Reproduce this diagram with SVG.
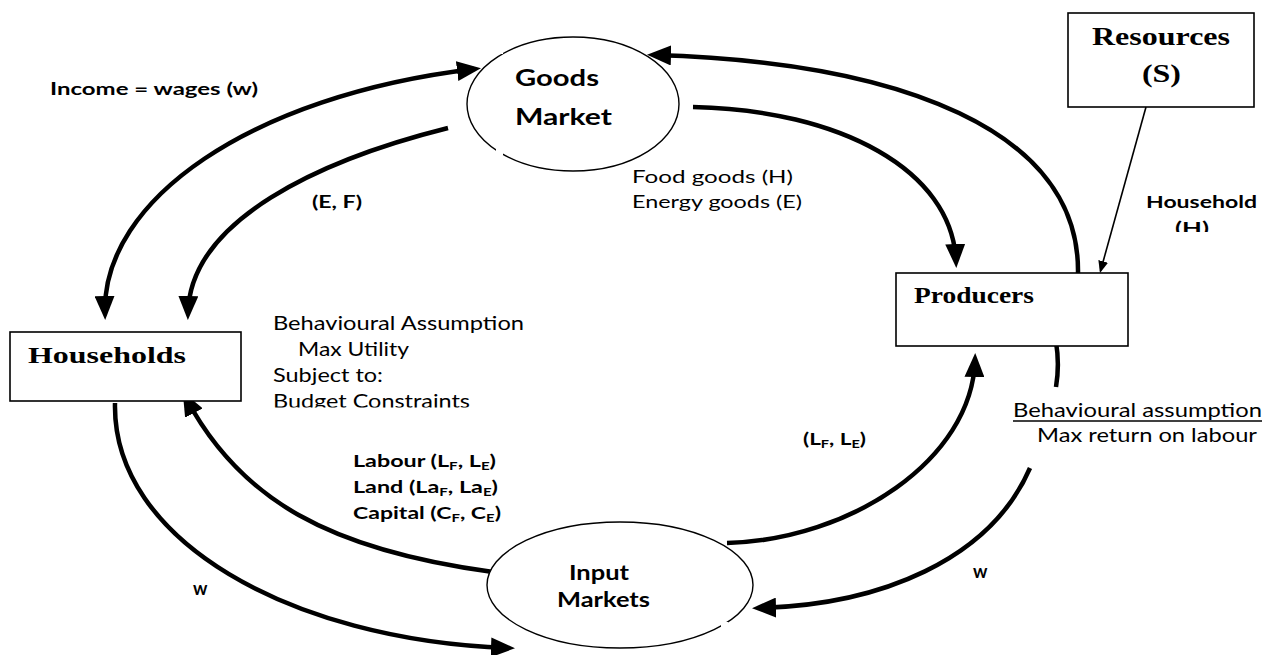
<svg xmlns="http://www.w3.org/2000/svg" width="1274" height="655" viewBox="0 0 1274 655">
  <defs>
    <style>
      .flow { fill: none; stroke: #000; stroke-width: 4.5; }
      .thin { fill: none; stroke: #000; stroke-width: 1.6; }
      .box { fill: #fff; stroke: #000; stroke-width: 1.6; }
      .oval { fill: #fff; stroke: #000; stroke-width: 1.4; }
      .serif { font-family: "Liberation Serif", "Times New Roman", serif; font-weight: bold; fill: #000; }
      .lbl { font-family: Lato, "Open Sans", sans-serif; font-weight: bold; fill: #000; }
      .note { font-family: Lato, "Open Sans", sans-serif; fill: #000; }
      .gap { fill: #fff; stroke: none; }
    </style>
    <marker id="head" markerUnits="userSpaceOnUse" markerWidth="24" markerHeight="20" refX="17" refY="10" orient="auto-start-reverse">
      <path d="M0,0 L24,10 L0,20 Z" fill="#000"/>
    </marker>
    <marker id="headSmall" markerUnits="userSpaceOnUse" markerWidth="12" markerHeight="10" refX="10" refY="5" orient="auto">
      <path d="M0,0 L12,5 L0,10 Z" fill="#000"/>
    </marker>
    <clipPath id="clipBudget"><rect x="260" y="300" width="300" height="107.5"/></clipPath>
    <clipPath id="clipH"><rect x="1140" y="180" width="134" height="52"/></clipPath>
  </defs>

  <rect width="1274" height="655" fill="#fff"/>

  <!-- connectors -->
  <g id="connectors">
    <!-- income = wages: households <-> goods market -->
    <path class="flow" d="M 474 69 C 250 96, 102 200, 105 313" marker-start="url(#head)" marker-end="url(#head)"/>
    <!-- (E, F): goods market -> households -->
    <path class="flow" d="M 448 128 C 320 160, 190 220, 188 313" marker-end="url(#head)"/>
    <!-- producers -> goods market -->
    <path class="flow" d="M 1078 273 C 1080 130, 900 62, 654 55" marker-end="url(#head)"/>
    <!-- goods market -> producers (food / energy goods) -->
    <path class="flow" d="M 693 107 C 840 110, 952 170, 956 261" marker-end="url(#head)"/>
    <!-- resources -> producers -->
    <path class="thin" d="M 1146 107 L 1100.5 271" marker-end="url(#headSmall)"/>
    <!-- input markets -> producers (LF, LE) -->
    <path class="flow" d="M 727 543 C 850 540, 972 460, 975 360" marker-end="url(#head)"/>
    <!-- producers -> input markets (w) -->
    <path class="flow" d="M 1056 342 C 1059 360, 1058 375, 1056 387"/>
    <path class="flow" d="M 1030 468 C 990 560, 880 605, 759 608" marker-end="url(#head)"/>
    <!-- input markets -> households (labour, land, capital) -->
    <path class="flow" d="M 493 572 C 330 550, 240 500, 186 398" marker-end="url(#head)"/>
    <!-- households -> input markets (w) -->
    <path class="flow" d="M 115 403 C 112 540, 290 640, 508 648" marker-end="url(#head)"/>
  </g>

  <!-- goods market -->
  <g id="goods-market">
    <ellipse class="oval" cx="573" cy="104" rx="106" ry="67"/>
    <rect class="gap" x="496" y="46" width="7" height="8"/>
    <rect class="gap" x="496" y="147" width="7" height="8"/>
    <text class="lbl" x="515" y="86" font-size="23" textLength="84" lengthAdjust="spacingAndGlyphs">Goods</text>
    <text class="lbl" x="515" y="125" font-size="23" textLength="97" lengthAdjust="spacingAndGlyphs">Market</text>
  </g>

  <!-- input markets -->
  <g id="input-markets">
    <ellipse class="oval" cx="620" cy="585" rx="133" ry="63"/>
    <rect class="gap" x="721" y="622" width="7" height="7"/>
    <text class="lbl" x="569" y="580" font-size="21" textLength="60" lengthAdjust="spacingAndGlyphs">Input</text>
    <text class="lbl" x="557" y="607" font-size="21" textLength="93" lengthAdjust="spacingAndGlyphs">Markets</text>
  </g>

  <!-- households -->
  <g id="households">
    <rect class="box" x="10" y="332" width="231" height="69"/>
    <text class="serif" x="28" y="363" font-size="24" textLength="158" lengthAdjust="spacingAndGlyphs">Households</text>
  </g>

  <!-- producers -->
  <g id="producers">
    <rect class="box" x="896" y="273" width="232" height="73"/>
    <text class="serif" x="914" y="303" font-size="23" textLength="120" lengthAdjust="spacingAndGlyphs">Producers</text>
  </g>

  <!-- resources -->
  <g id="resources">
    <rect class="box" x="1068" y="13" width="186" height="94"/>
    <text class="serif" x="1092" y="45" font-size="25" textLength="138" lengthAdjust="spacingAndGlyphs">Resources</text>
    <text class="serif" x="1142" y="82" font-size="25" textLength="39" lengthAdjust="spacingAndGlyphs">(S)</text>
  </g>

  <!-- flow labels -->
  <g id="labels">
    <text class="lbl" x="50" y="95" font-size="16.5" textLength="208" lengthAdjust="spacingAndGlyphs">Income = wages (w)</text>
    <text class="lbl" x="312" y="208" font-size="16.5" textLength="50" lengthAdjust="spacingAndGlyphs">(E, F)</text>
    <text class="note" x="632" y="183" font-size="18" textLength="161" lengthAdjust="spacingAndGlyphs">Food  goods (H)</text>
    <text class="note" x="632" y="208" font-size="18" textLength="170" lengthAdjust="spacingAndGlyphs">Energy goods (E)</text>
    <text class="lbl" x="1146" y="208" font-size="17" textLength="111" lengthAdjust="spacingAndGlyphs">Household</text>
    <g clip-path="url(#clipH)">
      <text class="lbl" x="1175" y="234" font-size="17" textLength="34" lengthAdjust="spacingAndGlyphs">(H)</text>
    </g>

    <text class="note" x="273" y="330" font-size="19" textLength="251" lengthAdjust="spacingAndGlyphs">Behavioural Assumption</text>
    <text class="note" x="298" y="356" font-size="19" textLength="111" lengthAdjust="spacingAndGlyphs">Max Utility</text>
    <text class="note" x="273" y="382" font-size="19" textLength="110" lengthAdjust="spacingAndGlyphs">Subject to:</text>
    <g clip-path="url(#clipBudget)">
      <text class="note" x="273" y="408" font-size="19" textLength="197" lengthAdjust="spacingAndGlyphs">Budget Constraints</text>
    </g>

    <text class="lbl" x="353" y="467" font-size="17" textLength="143" lengthAdjust="spacingAndGlyphs">Labour (L<tspan font-size="11" dy="3">F</tspan><tspan dy="-3">, L</tspan><tspan font-size="11" dy="3">E</tspan><tspan dy="-3">)</tspan></text>
    <text class="lbl" x="353" y="493" font-size="17" textLength="145" lengthAdjust="spacingAndGlyphs">Land (La<tspan font-size="11" dy="3">F</tspan><tspan dy="-3">, La</tspan><tspan font-size="11" dy="3">E</tspan><tspan dy="-3">)</tspan></text>
    <text class="lbl" x="353" y="519" font-size="17" textLength="148" lengthAdjust="spacingAndGlyphs">Capital (C<tspan font-size="11" dy="3">F</tspan><tspan dy="-3">, C</tspan><tspan font-size="11" dy="3">E</tspan><tspan dy="-3">)</tspan></text>

    <text class="lbl" x="803" y="445" font-size="17" textLength="63" lengthAdjust="spacingAndGlyphs">(L<tspan font-size="11" dy="3">F</tspan><tspan dy="-3">, L</tspan><tspan font-size="11" dy="3">E</tspan><tspan dy="-3">)</tspan></text>

    <text class="note" x="1013" y="417" font-size="19" textLength="249" lengthAdjust="spacingAndGlyphs">Behavioural assumption</text>
    <line x1="1013" y1="421" x2="1262" y2="421" stroke="#000" stroke-width="1.4"/>
    <text class="note" x="1037" y="442" font-size="19" textLength="220" lengthAdjust="spacingAndGlyphs">Max return on labour</text>

    <text class="lbl" x="973" y="578" font-size="18">w</text>
    <text class="lbl" x="193" y="595" font-size="18">w</text>
  </g>
</svg>
